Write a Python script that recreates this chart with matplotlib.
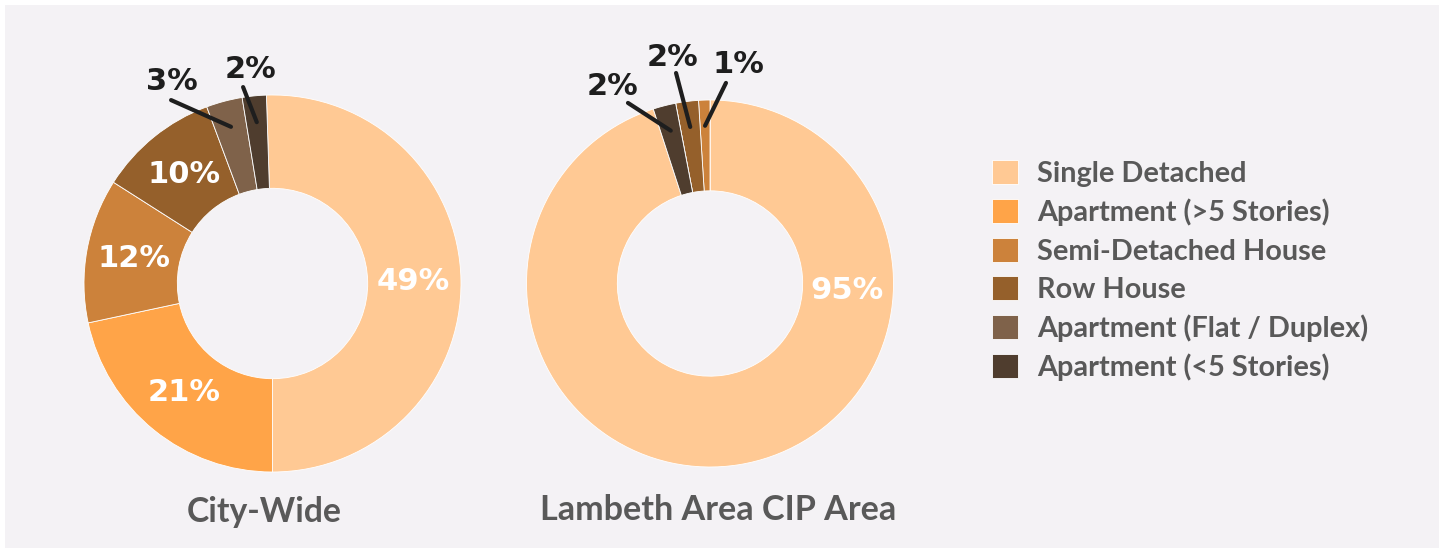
import numpy as np
import matplotlib
matplotlib.use("Agg")
import matplotlib.pyplot as plt
from matplotlib.patches import Rectangle

# Dwelling-type shares (percent)
categories = [
    "Single Detached",
    "Apartment (>5 Stories)",
    "Semi-Detached House",
    "Row House",
    "Apartment (Flat / Duplex)",
    "Apartment (<5 Stories)",
]
city_wide = [49, 21, 12, 10, 3, 2]
lambeth = [95, 0, 1, 2, 0, 2]
chart_titles = ["City-Wide", "Lambeth Area CIP Area"]

colors = ["#FFC994", "#FFA448", "#CC823B", "#95602B", "#7F624A", "#4F3D2E"]
bg = "#F4F2F5"
text_gray = "#595959"
dark_text = "#1E1E1E"

W, H, DPI = 1444, 550, 100
fig = plt.figure(figsize=(W / DPI, H / DPI), dpi=DPI, facecolor="white")
fig.patches.append(Rectangle((5 / W, 2 / H), 1434 / W, 543 / H,
                             transform=fig.transFigure, facecolor=bg,
                             edgecolor="none", zorder=-10))

PAD = 1.35


def donut_axes(cx, cy, r):
    side = 2 * r * PAD
    ax = fig.add_axes([(cx - side / 2) / W, (H - cy - side / 2) / H,
                       side / W, side / H])
    ax.axis("off")
    return ax


pct_font = dict(family="DejaVu Sans", weight="bold", fontsize=22)

# Small slices get their labels outside with a leader line:
# index -> (label position, leader start), in units of the outer radius
outside_layout = [
    {4: ((-0.533, 1.069), (-0.538, 0.973)),
     5: ((-0.119, 1.133), (-0.156, 1.042))},
    {5: ((-0.534, 1.071), (-0.447, 0.984)),
     3: ((-0.202, 1.234), (-0.185, 1.147)),
     2: ((0.153, 1.191), (0.087, 1.093))},
]
# Inside labels placed at a fixed angle instead of the slice middle
label_angle_override = [{}, {0: -3.0}]

series = [city_wide, lambeth]
# City-Wide runs clockwise with its first slice ending at six o'clock;
# Lambeth runs counter-clockwise with its first slice ending at noon.
directions = [False, True]
start_angles = [-90 + 360 * city_wide[0] / sum(city_wide),
                90 - 360 * lambeth[0] / sum(lambeth)]
geometry = [(272.5, 283.5, 188.5), (710, 283.5, 183.5)]

for k, (vals, (cx, cy, r)) in enumerate(zip(series, geometry)):
    ax = donut_axes(cx, cy, r)
    wedges, _ = ax.pie(vals, colors=colors, startangle=start_angles[k],
                       counterclock=directions[k], radius=1,
                       wedgeprops=dict(width=0.495, edgecolor="white",
                                       linewidth=0.6))
    ax.set_xlim(-PAD, PAD)
    ax.set_ylim(-PAD, PAD)
    ax.set_aspect("equal")
    if k == 0:
        legend_handles = wedges
    for i, (w, v) in enumerate(zip(wedges, vals)):
        if v == 0:
            continue
        mid = np.deg2rad((w.theta1 + w.theta2) / 2)
        if i in outside_layout[k]:
            (tx, ty), (lx, ly) = outside_layout[k][i]
            ex, ey = 0.86 * np.cos(mid), 0.86 * np.sin(mid)
            ax.plot([lx, ex], [ly, ey], color=dark_text, lw=3.0,
                    solid_capstyle="round", clip_on=False, zorder=5)
            ax.text(tx, ty, f"{v}%", color=dark_text, ha="center",
                    va="center", clip_on=False, **pct_font)
        else:
            ang = np.deg2rad(label_angle_override[k][i]) \
                if i in label_angle_override[k] else mid
            ax.text(0.745 * np.cos(ang), 0.745 * np.sin(ang), f"{v}%",
                    color="white", ha="center", va="center", **pct_font)

fig.text(264 / W, 1 - 512 / H, chart_titles[0], ha="center", va="center",
         family="Lato", weight="bold", fontsize=24.3, color=text_gray)
fig.text(718 / W, 1 - 510 / H, chart_titles[1], ha="center", va="center",
         family="Lato", weight="bold", fontsize=24.6, color=text_gray)

leg_fs = 20.8
fig.legend(legend_handles, categories, loc="upper left",
           bbox_to_anchor=(992 / W, 1 - 160 / H), frameon=False,
           prop=dict(family="Lato", weight="bold", size=leg_fs),
           labelcolor=text_gray, handlelength=0.9, handleheight=0.9,
           handletextpad=0.65, labelspacing=0.4, borderpad=0,
           borderaxespad=0)

fig.savefig("out.png", dpi=DPI, facecolor="white")
